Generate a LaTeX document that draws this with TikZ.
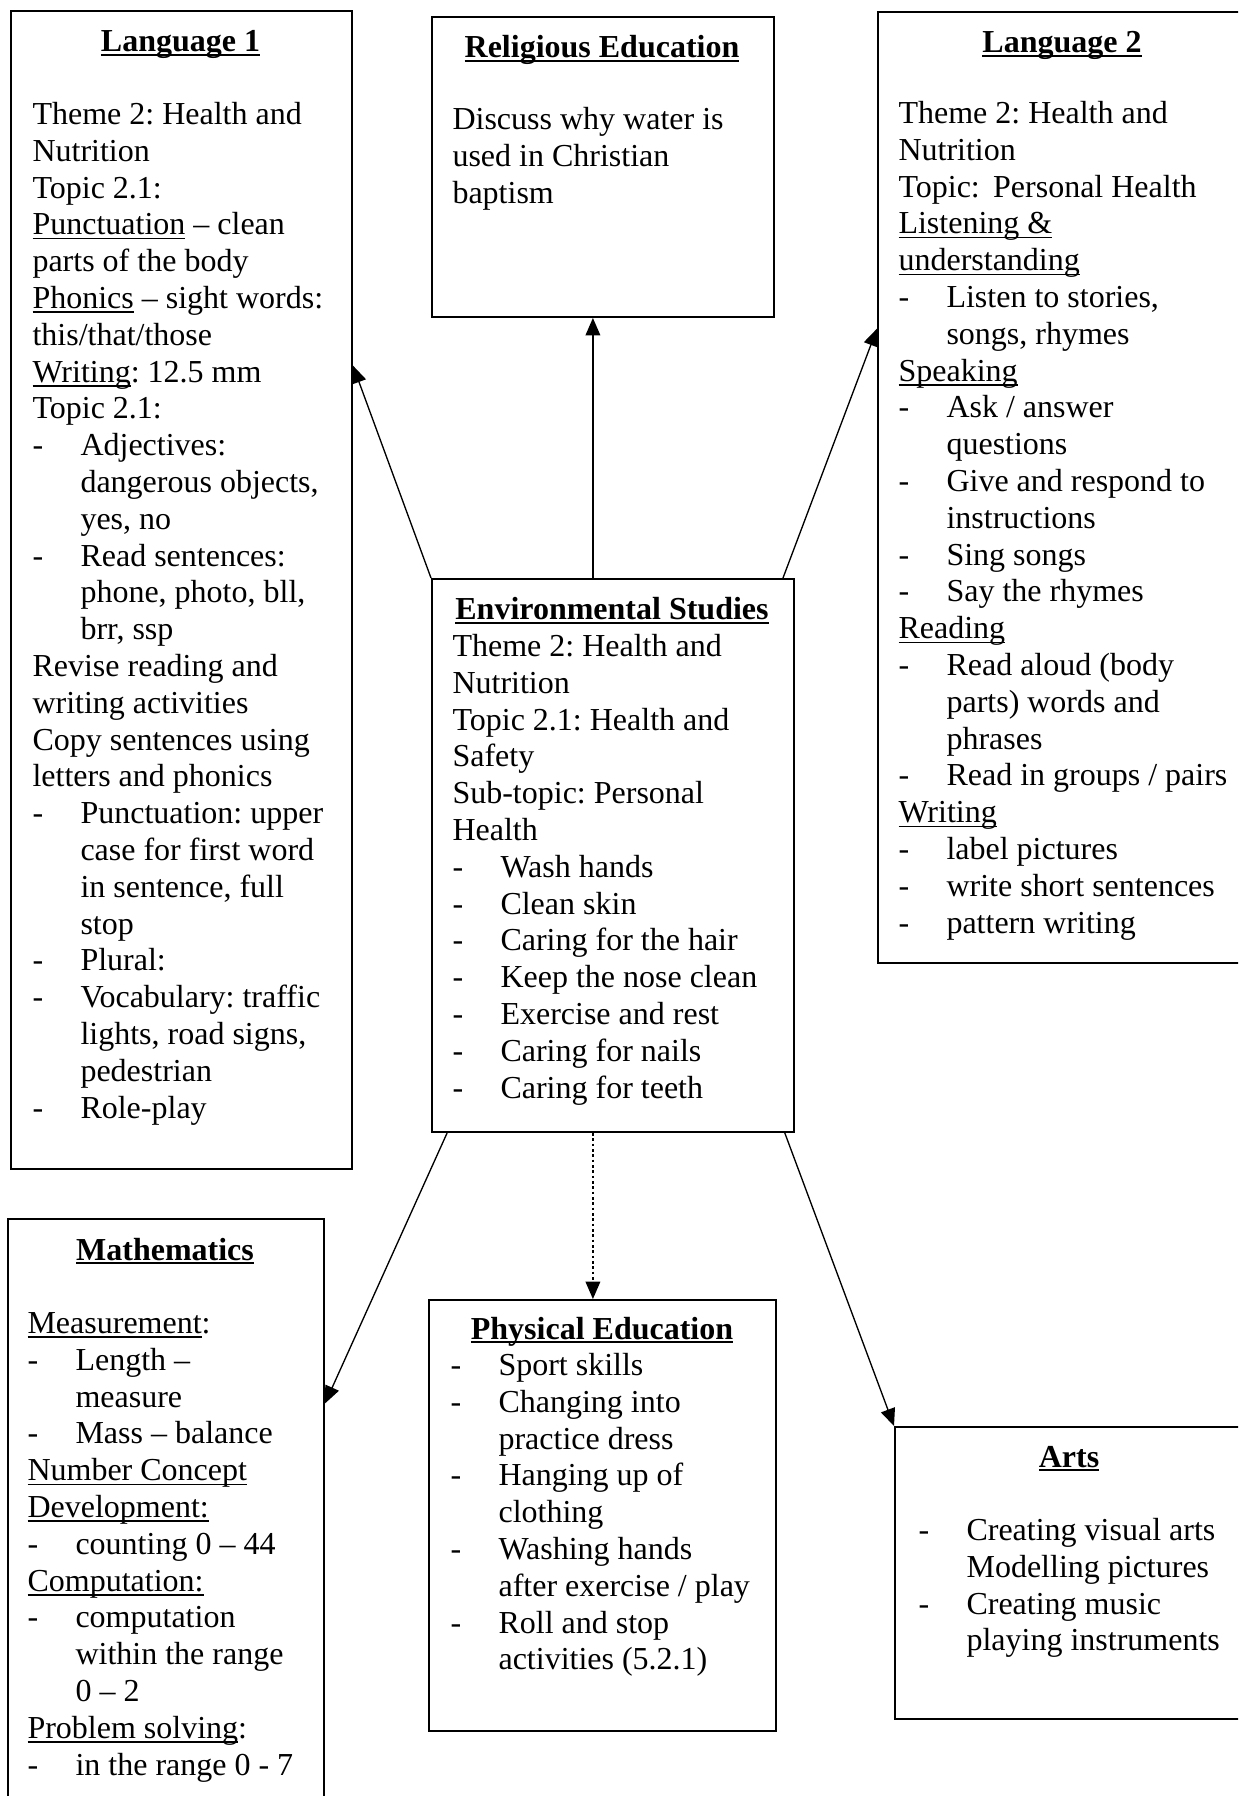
\documentclass[tikz,border=0pt]{standalone}
\usepackage{fontspec}
\setmainfont{Liberation Serif}
\usetikzlibrary{arrows.meta,calc}
\frenchspacing

% underlined words: regular text and bold headings
\newcommand\uln[1]{\leavevmode\setbox0\hbox{#1}\rlap{\rule[-0.14em]{\wd0}{0.05em}}\box0\relax}
\newcommand\ulb[1]{\leavevmode\setbox0\hbox{#1}\rlap{\rule[-0.13em]{\wd0}{0.07em}}\box0\relax}
% list item with a hanging dash, and its continuation lines
\newcommand\itm{\makebox[18pt][l]{-}}
\newcommand\cnt{\hspace*{18pt}}
\newcommand\fs{\rule{0pt}{10pt}}

\begin{document}
\begin{tikzpicture}[x=0.375pt,y=-0.375pt,
  panel/.style={draw, line width=0.75pt, inner sep=0pt, anchor=north west},
  ttl/.style={font=\fontsize{12pt}{13.8pt}\selectfont\bfseries, inner sep=0pt, anchor=base},
  body/.style={font=\fontsize{12pt}{13.8pt}\selectfont, inner sep=0pt, anchor=north west, align=left},
  link/.style={line width=0.5pt, -{Triangle[length=6.5pt,width=5.5pt]}},
  ]
\useasboundingbox (0,0) rectangle (1238,1796);
\clip (0,0) rectangle (1238,1796);

% ---- panels ----
\node[panel, minimum width=127.875pt, minimum height=434.25pt] (lang1) at (10,10) {};
\node[panel, minimum width=128.25pt,  minimum height=112.5pt]  (rel)   at (431,16) {};
\node[panel, minimum width=138.75pt,  minimum height=356.625pt] (lang2) at (877,11) {};
\node[panel, minimum width=135.75pt,  minimum height=207.375pt] (env)   at (431,578) {};
\node[panel, minimum width=118.5pt,   minimum height=229.5pt]  (math)  at (7,1218) {};
\node[panel, minimum width=130.125pt, minimum height=161.625pt] (pe)    at (428,1299) {};
\node[panel, minimum width=131.25pt,  minimum height=109.5pt]  (arts)  at (894,1426) {};

% ---- headings ----
\node[ttl] (t-lang1) at (180.5,52)  {\ulb{Language 1}};
\node[ttl] (t-rel)   at (602,58)    {\ulb{Religious Education}};
\node[ttl] (t-lang2) at (1062,53)   {\ulb{Language 2}};
\node[ttl] (t-env)   at (612,620)   {\ulb{Environmental Studies}};
\node[ttl] (t-math)  at (165,1260)  {\ulb{Mathematics}};
\node[ttl] (t-pe)    at (602,1339)  {\ulb{Physical Education}};
\node[ttl] (t-arts)  at (1069,1467) {\ulb{Arts}};

% ---- contents ----
\node[body] (b-lang1) at (32,97.3) {\fs Theme 2: Health and\\
Nutrition\\
Topic 2.1:\\
\uln{Punctuation} -- clean\\
parts of the body\\
\uln{Phonics} -- sight words:\\
this/that/those\\
\uln{Writing}: 12.5 mm\\
Topic 2.1:\\
\itm Adjectives:\\
\cnt dangerous objects,\\
\cnt yes, no\\
\itm Read sentences:\\
\cnt phone, photo, bll,\\
\cnt brr, ssp\\
Revise reading and\\
writing activities\\
Copy sentences using\\
letters and phonics\\
\itm Punctuation: upper\\
\cnt case for first word\\
\cnt in sentence, full\\
\cnt stop\\
\itm Plural:\\
\itm Vocabulary: traffic\\
\cnt lights, road signs,\\
\cnt pedestrian\\
\itm Role-play};

\node[body] (b-rel) at (452,102.3) {\fs Discuss why water is\\
used in Christian\\
baptism};

\node[body] (b-lang2) at (898,96.3) {\fs Theme 2: Health and\\
Nutrition\\
Topic: \,Personal Health\\
\uln{Listening \&}\\
\uln{understanding}\\
\itm Listen to stories,\\
\cnt songs, rhymes\\
\uln{Speaking}\\
\itm Ask / answer\\
\cnt questions\\
\itm Give and respond to\\
\cnt instructions\\
\itm Sing songs\\
\itm Say the rhymes\\
\uln{Reading}\\
\itm Read aloud (body\\
\cnt parts) words and\\
\cnt phrases\\
\itm Read in groups / pairs\\
\uln{Writing}\\
\itm label pictures\\
\itm write short sentences\\
\itm pattern writing};

\node[body] (b-env) at (452,629.3) {\fs Theme 2: Health and\\
Nutrition\\
Topic 2.1: Health and\\
Safety\\
Sub-topic: Personal\\
Health\\
\itm Wash hands\\
\itm Clean skin\\
\itm Caring for the hair\\
\itm Keep the nose clean\\
\itm Exercise and rest\\
\itm Caring for nails\\
\itm Caring for teeth};

\node[body] (b-math) at (27,1306.3) {\fs \uln{Measurement}:\\
\itm Length --\\
\cnt measure\\
\itm Mass -- balance\\
\uln{Number Concept}\\
\uln{Development:}\\
\itm counting 0 -- 44\\
\uln{Computation:}\\
\itm computation\\
\cnt within the range\\
\cnt 0 -- 2\\
\uln{Problem solving}:\\
\itm in the range 0 - 7};

\node[body] (b-pe) at (450,1348.3) {\fs \itm Sport skills\\
\itm Changing into\\
\cnt practice dress\\
\itm Hanging up of\\
\cnt clothing\\
\itm Washing hands\\
\cnt after exercise / play\\
\itm Roll and stop\\
\cnt activities (5.2.1)};

\node[body] (b-arts) at (918,1513.3) {\fs \itm Creating visual arts\\
\cnt Modelling pictures\\
\itm Creating music\\
\cnt playing instruments};

% ---- connectors from the central panel ----
\coordinate (eN) at ($(env.north west)!0.4448!(env.north east)$);
\coordinate (eS) at ($(env.south west)!0.4448!(env.south east)$);
\draw[link] (env.north west) -- ($(lang1.north east)!0.3066!(lang1.south east)$);
\draw[link] (eN) -- (eN |- rel.south);
\draw[link] ($(env.north west)!0.967!(env.north east)$) -- ($(lang2.north west)!0.3333!(lang2.south west)$);
\draw[link, dash pattern=on 1pt off 1pt] (eS) -- (eS |- pe.north);
\draw[link] ($(env.south west)!0.0442!(env.south east)$) -- ($(math.north east)!0.302!(math.south east)$);
\draw[link] ($(env.south west)!0.972!(env.south east)$) -- (arts.north west);
\end{tikzpicture}
\end{document}
